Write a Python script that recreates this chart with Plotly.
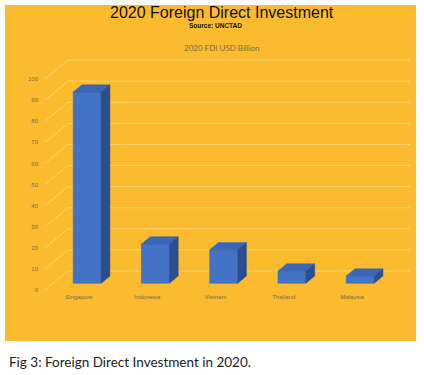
import plotly.graph_objects as go

countries = ["Singapore", "Indonesia", "Vietnam", "Thailand", "Malaysia"]
fdi = [90.6, 18.6, 15.8, 5.8, 3.4]
y_ticks = [0, 10, 20, 30, 40, 50, 60, 70, 80, 90, 100]

# pseudo-3D geometry (in data units)
DX, DY = 0.336, 9.0        # depth of the floor
A, D = 0.36, 0.38          # bar front position in depth, bar depth fraction
W = 0.41                   # bar width
XL, XR = -0.498, 4.85      # x range
YR = [-0.95, 111.4]

L, R, T, B = 45, 14, 55, 83
PW, PH = 424 - L - R, 375 - T - B
def px(x): return (x - L) / PW
def py(y): return (375 - B - y) / PH

fig = go.Figure()

# gridlines (front slant + back wall)
gx, gy = [], []
for v in y_ticks:
    gx += [XL, XL + DX, XR, None]
    gy += [v, v + DY, v + DY, None]
fig.add_trace(go.Scatter(x=gx, y=gy, mode="lines",
                         line=dict(color="rgba(255,220,130,0.75)", width=1),
                         hoverinfo="skip", showlegend=False))

xs = list(range(len(countries)))
b0 = A * DY
sh = A * DX
dbx, dby = D * DX, D * DY

fx, fy, tx, ty, sx, sy = [], [], [], [], [], []
for i, v in zip(xs, fdi):
    x0 = i + sh - W / 2
    x1 = i + sh + W / 2
    top = v + b0
    fx += [x0, x1, x1, x0, x0, None]
    fy += [b0, b0, top, top, b0, None]
    tx += [x0, x1, x1 + dbx, x0 + dbx, x0, None]
    ty += [top, top, top + dby, top + dby, top, None]
    sx += [x1, x1, x1 + dbx, x1 + dbx, x1, None]
    sy += [b0, top, top + dby, b0 + dby, b0, None]
fig.add_trace(go.Scatter(x=fx, y=fy, fill="toself", mode="lines",
                         fillcolor="#4472C4", line=dict(color="#3D69B9", width=0.6),
                         hoverinfo="skip", showlegend=False))
fig.add_trace(go.Scatter(x=tx, y=ty, fill="toself", mode="lines",
                         fillcolor="#3A66B6", line=dict(color="#3A66B6", width=0.5),
                         hoverinfo="skip", showlegend=False))
fig.add_trace(go.Scatter(x=sx, y=sy, fill="toself", mode="lines",
                         fillcolor="#2B4E8E", line=dict(color="#2B4E8E", width=0.5),
                         hoverinfo="skip", showlegend=False))

fig.update_layout(
    width=424, height=375,
    margin=dict(l=L, r=R, t=T, b=B),
    paper_bgcolor="white", plot_bgcolor="rgba(0,0,0,0)",
    xaxis=dict(range=[XL, XR], tickmode="array", tickvals=xs, ticktext=countries,
               showgrid=False, zeroline=False, showline=False, ticks="",
               tickfont=dict(family="Liberation Sans", size=6, color="#7a6a4a")),
    yaxis=dict(range=YR, tickmode="array", tickvals=y_ticks,
               ticktext=[str(v) for v in y_ticks],
               showgrid=False, zeroline=False, showline=False, ticks="",
               ticklabelstandoff=6,
               tickfont=dict(family="Liberation Sans", size=6, color="#7a6a4a")),
    shapes=[dict(type="rect", xref="paper", yref="paper",
                 x0=px(5), x1=px(416), y0=py(341), y1=py(5),
                 fillcolor="#FBBB2E", line=dict(width=0), layer="below")],
    annotations=[
        dict(text="2020 Foreign Direct Investment", xref="paper", yref="paper",
             x=px(222), y=py(13), xanchor="center", yanchor="middle", showarrow=False,
             font=dict(family="Liberation Sans", size=16, color="#111")),
        dict(text="<b>Source: UNCTAD</b>", xref="paper", yref="paper",
             x=px(215), y=py(26), xanchor="center", yanchor="middle", showarrow=False,
             font=dict(family="Liberation Sans", size=6.5, color="#111")),
        dict(text="2020 FDI USD Billion", xref="paper", yref="paper",
             x=px(222), y=py(48), xanchor="center", yanchor="middle", showarrow=False,
             font=dict(family="Lato", size=8, color="#7a6a4a")),
        dict(text="Fig 3: Foreign Direct Investment in 2020.", xref="paper", yref="paper",
             x=px(7), y=py(362), xanchor="left", yanchor="middle", showarrow=False,
             font=dict(family="Lato", size=13.5, color="#222")),
    ],
)

fig.write_html("out.html")
